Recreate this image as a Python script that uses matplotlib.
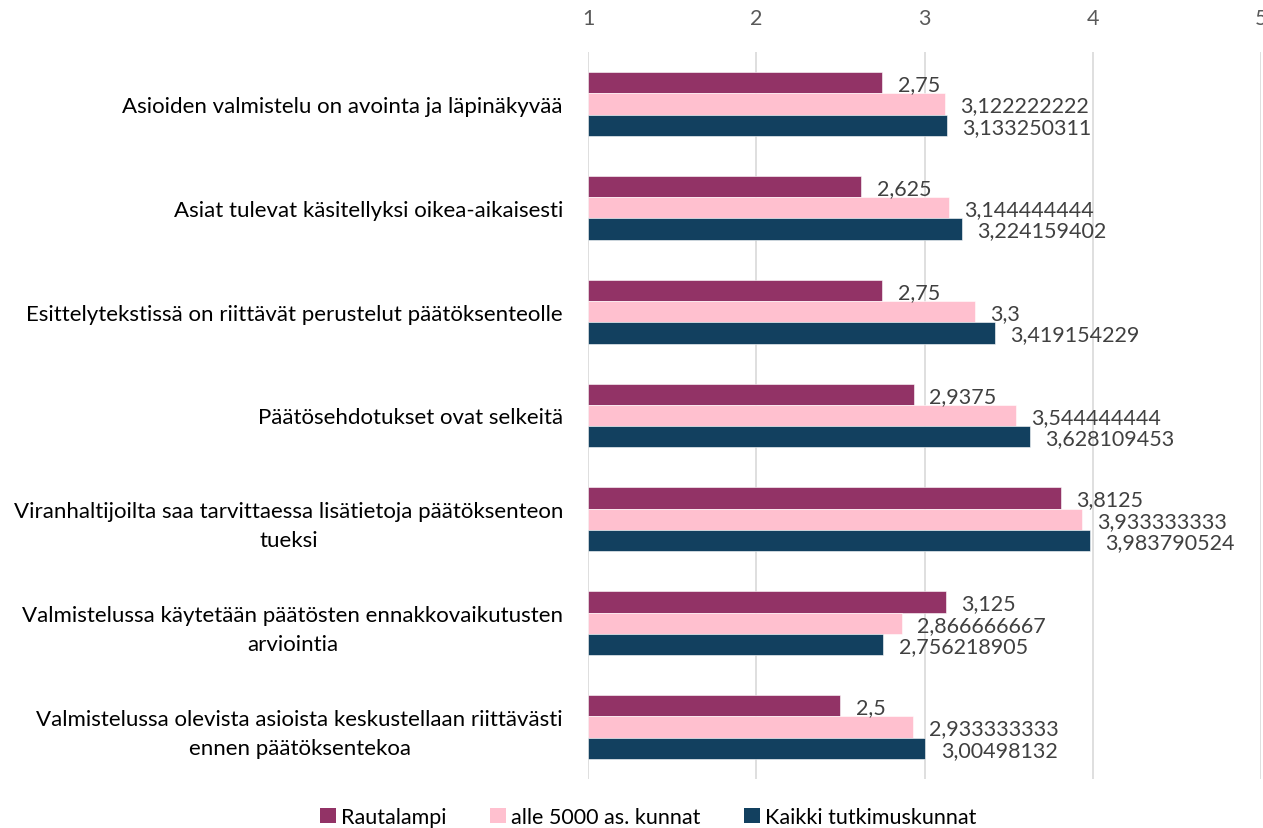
import matplotlib
matplotlib.use("Agg")
import matplotlib.pyplot as plt
from matplotlib.patches import Patch
import numpy as np

plt.rcParams['font.family'] = ['Lato', 'DejaVu Sans']

categories = [
    "Asioiden valmistelu on avointa ja läpinäkyvää",
    "Asiat tulevat käsitellyksi oikea-aikaisesti",
    "Esittelytekstissä on riittävät perustelut päätöksenteolle",
    "Päätösehdotukset ovat selkeitä",
    "Viranhaltijoilta saa tarvittaessa lisätietoja päätöksenteon\ntueksi",
    "Valmistelussa käytetään päätösten ennakkovaikutusten\narviointia",
    "Valmistelussa olevista asioista keskustellaan riittävästi\nennen päätöksentekoa",
]
series_names = ["Rautalampi", "alle 5000 as. kunnat", "Kaikki tutkimuskunnat"]
rautalampi = [2.75, 2.625, 2.75, 2.9375, 3.8125, 3.125, 2.5]
alle5000 = [3.122222222, 3.144444444, 3.3, 3.544444444, 3.933333333, 2.866666667, 2.933333333]
kaikki = [3.133250311, 3.224159402, 3.419154229, 3.628109453, 3.983790524, 2.756218905, 3.00498132]
xticks = [1, 2, 3, 4, 5]

colors = ["#923366", "#FFC0CF", "#12405F"]
W, H = 1263, 829
fig = plt.figure(figsize=(W / 100, H / 100), dpi=100)
ax = fig.add_axes([588 / W, 1 - 780 / H, (1261 - 588) / W, (780 - 53) / H])

y = np.arange(len(categories))
bh = 0.205
offsets = [-bh, 0, bh]
fs_lab = 15.5
fs_cat = 16
for vals, off, c in zip([rautalampi, alle5000, kaikki], offsets, colors):
    ax.barh(y + off, np.array(vals) - 1, left=1, height=bh, color=c,
            edgecolor="white", linewidth=0.4, zorder=2)
    for yi, v in zip(y + off, vals):
        lbl = "{:.10g}".format(v).replace(".", ",")
        ax.annotate(lbl, (v, yi), xytext=(11, -1), textcoords="offset points",
                    ha="left", va="center", fontsize=fs_lab, color="#404040")

ax.set_xlim(1, 5)
ax.set_ylim(len(categories) - 0.5, -0.5)
ax.set_xticks(xticks)
ax.set_xticklabels([str(t) for t in xticks])
ax.xaxis.tick_top()
ax.tick_params(axis="x", length=0, pad=17, labelsize=fs_lab, labelcolor="#595959")
ax.set_yticks(y)
ax.set_yticklabels(categories, fontsize=fs_cat, color="#000000", multialignment="center",
                   linespacing=1.55)
ax.tick_params(axis="y", length=0, pad=18)
ax.grid(axis="x", color="#D9D9D9", linewidth=1.2, zorder=0)
for s in ax.spines.values():
    s.set_visible(False)
ax.set_axisbelow(True)

handles = [Patch(facecolor=c, edgecolor="none") for c in colors]
fig.legend(handles, series_names, loc="center", bbox_to_anchor=(648 / W, 1 - 818 / H),
           ncol=3, frameon=False, fontsize=fs_lab, handlelength=0.75, handleheight=0.75,
           handletextpad=0.25, columnspacing=2.0)

fig.savefig("out.png", dpi=100)
